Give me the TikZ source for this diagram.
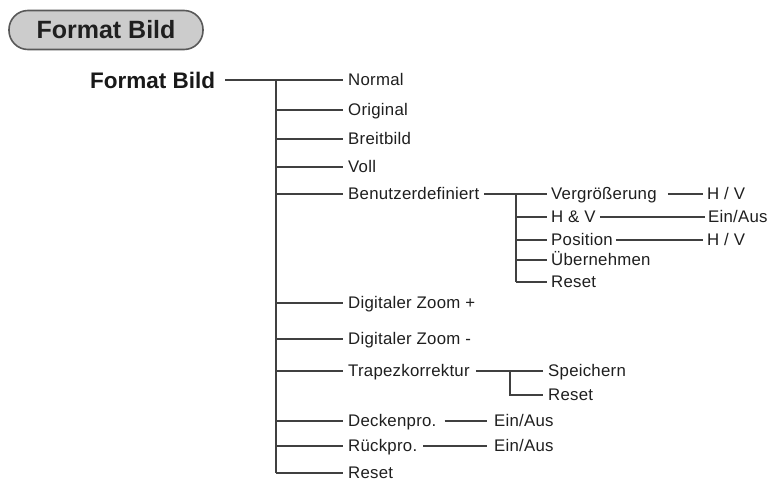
\documentclass[tikz,border=0pt]{standalone}
\usepackage{fontspec}
\setmainfont{Liberation Sans}[LetterSpace=1.5]
\begin{document}
\begin{tikzpicture}[x=1pt,y=-1pt,
  lbl/.style={anchor=west,inner sep=0pt,text=black!88,font=\fontsize{16.8}{18}\selectfont,text height=11.7pt,text depth=0pt},
  con/.style={draw=black!75,line width=1.3pt},
  hdr/.style={draw=black!65,line width=1.6pt,fill=black!20,rounded corners=19pt,minimum width=194pt,minimum height=39pt,inner sep=0pt,font=\fontsize{25}{28}\selectfont\bfseries\addfontfeatures{LetterSpace=0},text=black!88},
  root/.style={anchor=west,inner sep=0pt,text=black!90,font=\fontsize{22.5}{26}\selectfont\bfseries\addfontfeatures{LetterSpace=0},text height=16pt,text depth=0pt}]
\useasboundingbox[fill=white] (0,0) rectangle (773,493);
% header
\node[hdr] (h) at (106,30) {Format Bild};
% root
\node[root] (r) at (90,80) {Format Bild};
% level 1
\node[lbl] (n1) at (348,80) {Normal};
\node[lbl] (n2) at (348,110) {Original};
\node[lbl] (n3) at (348,139) {Breitbild};
\node[lbl] (n4) at (348,167) {Voll};
\node[lbl] (n5) at (348,194) {Benutzerdefiniert};
\node[lbl] (n6) at (348,303) {Digitaler Zoom +};
\node[lbl] (n7) at (348,339) {Digitaler Zoom -};
\node[lbl] (n8) at (348,371) {Trapezkorrektur};
\node[lbl] (n9) at (348,421) {Deckenpro.};
\node[lbl] (n10) at (348,446) {Rückpro.};
\node[lbl] (n11) at (348,473) {Reset};
\coordinate (t) at (276,80);
\draw[con] ([xshift=10pt]r.east) -- ([xshift=-5pt]n1.west);
\draw[con] (t) -- (t |- n11.west);
\foreach \n in {n2,n3,n4,n5,n6,n7,n8,n9,n10,n11}
  \draw[con] (t |- \n.west) -- ([xshift=-5pt]\n.west);
% Benutzerdefiniert sub
\node[lbl] (b1) at (551,194) {Vergrößerung};
\node[lbl] (b2) at (551,217) {H \& V};
\node[lbl] (b3) at (551,240) {Position};
\node[lbl] (b4) at (551,260) {Übernehmen};
\node[lbl] (b5) at (551,282) {Reset};
\coordinate (s) at (516,194);
\draw[con] ([xshift=5pt]n5.east) -- ([xshift=-4pt]b1.west);
\draw[con] (s) -- (s |- b5.west);
\foreach \n in {b2,b3,b4,b5}
  \draw[con] (s |- \n.west) -- ([xshift=-4pt]\n.west);
\node[lbl] (v1) at (707,194) {H / V};
\node[lbl] (v2) at (708,217) {Ein/Aus};
\node[lbl] (v3) at (707,240) {H / V};
\draw[con] ([xshift=11pt]b1.east) -- ([xshift=-4pt]v1.west);
\draw[con] ([xshift=4pt]b2.east) -- ([xshift=-3pt]v2.west);
\draw[con] ([xshift=3pt]b3.east) -- ([xshift=-4pt]v3.west);
% Trapezkorrektur sub
\node[lbl] (k1) at (548,371) {Speichern};
\node[lbl] (k2) at (548,395) {Reset};
\coordinate (k) at (510,371);
\draw[con] ([xshift=6pt]n8.east) -- ([xshift=-5pt]k1.west);
\draw[con] (k) -- (k |- k2.west) -- ([xshift=-5pt]k2.west);
% Deckenpro / Rueckpro
\node[lbl] (d1) at (494,421) {Ein/Aus};
\node[lbl] (d2) at (494,446) {Ein/Aus};
\draw[con] ([xshift=8pt]n9.east) -- ([xshift=-7pt]d1.west);
\draw[con] ([xshift=6pt]n10.east) -- ([xshift=-7pt]d2.west);
\end{tikzpicture}
\end{document}
